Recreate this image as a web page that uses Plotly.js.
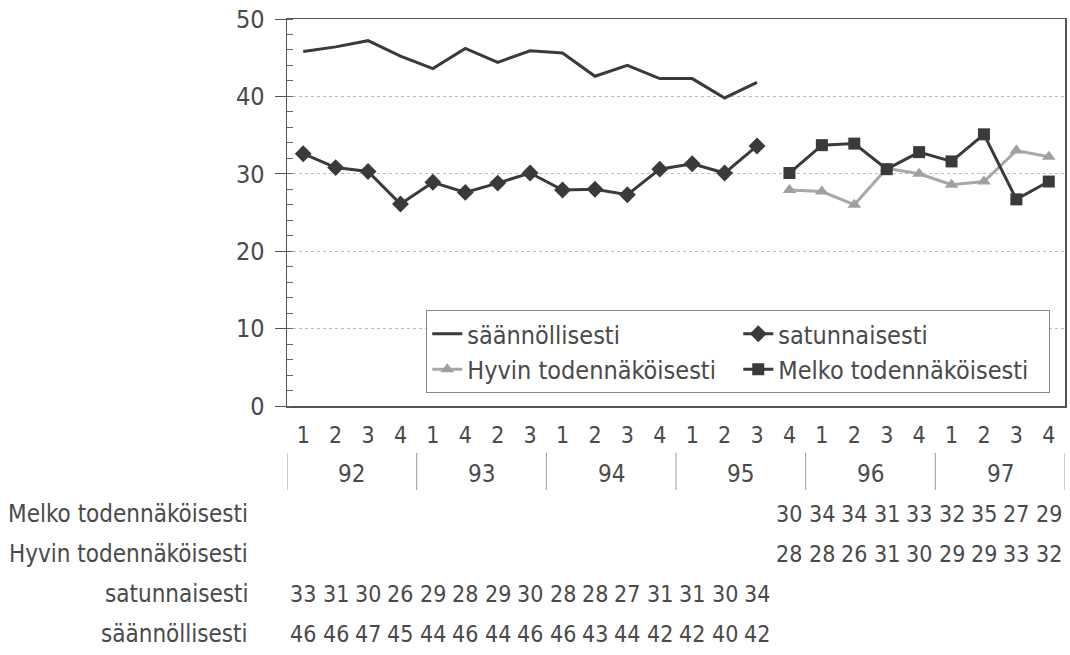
<!DOCTYPE html>
<html><head><meta charset="utf-8">
<script src="https://cdn.plot.ly/plotly-3.0.1.min.js"></script>
<style>html,body{margin:0;padding:0;background:#fff}#chart{width:1070px;height:655px}</style>
</head><body><div id="chart"></div>
<script>
// categories (year groups / quarter labels as printed)
const years = ['92','92','92','92','93','93','93','93','94','94','94','94','95','95','95','95','96','96','96','96','97','97','97','97'];
const quarters = ['1','2','3','4','1','4','2','3','1','2','3','4','1','2','3','4','1','2','3','4','1','2','3','4'];
// series values (first two cover the first 15 quarters, last two the final 9)
const saannollisesti = [45.8,46.4,47.2,45.2,43.6,46.2,44.4,45.9,45.6,42.6,44.0,42.3,42.3,39.8,41.8];
const satunnaisesti = [32.6,30.8,30.3,26.1,28.9,27.6,28.8,30.1,27.9,28.0,27.3,30.6,31.3,30.1,33.6];
const hyvin = [27.9,27.7,26.0,30.7,30.0,28.6,29.0,33.0,32.2];
const melko = [30.1,33.7,33.9,30.6,32.8,31.6,35.1,26.7,29.0];
const names = ['säännöllisesti','satunnaisesti','Hyvin todennäköisesti','Melko todennäköisesti'];

const N = years.length;
const idx = years.map((_, i) => i);
function early(arr){ return arr.concat(new Array(N-arr.length).fill(null)); }
function late(arr){ return new Array(N-arr.length).fill(null).concat(arr); }
const FONT = "'DejaVu Sans Condensed','DejaVu Sans',sans-serif";
const TXT = '#4a4a4a';
const DARK = '#3a3a3a';

const traces = [
  {x:idx, y:early(saannollisesti), name:names[0], mode:'lines', line:{color:DARK, width:3}},
  {x:idx, y:early(satunnaisesti), name:names[1], mode:'lines+markers', line:{color:DARK, width:3}, marker:{symbol:'diamond', size:13, color:DARK}},
  {x:idx, y:late(hyvin), name:names[2], mode:'lines+markers', line:{color:'#a8a8a8', width:3}, marker:{symbol:'triangle-up', size:12, color:'#a0a0a0'}},
  {x:idx, y:late(melko), name:names[3], mode:'lines+markers', line:{color:DARK, width:3}, marker:{symbol:'square', size:12, color:DARK}}
];

const annotations = [];
const shapes = [];

// year group labels and dividers beneath the quarter labels
const groups = [];
years.forEach((y, i) => {
  if (!groups.length || groups[groups.length-1].year !== y) groups.push({year:y, start:i, end:i});
  else groups[groups.length-1].end = i;
});
groups.forEach((g, gi) => {
  annotations.push({xref:'x', yref:'paper', x:(g.start+g.end)/2, y:-0.176, xanchor:'center', yanchor:'middle',
    text:g.year, showarrow:false, font:{family:FONT, size:24, color:TXT}});
  const bounds = gi === 0 ? [g.start-0.5, g.end+0.5] : [g.end+0.5];
  bounds.forEach(b => shapes.push({type:'line', xref:'x', yref:'paper', x0:b, x1:b, y0:-0.121, y1:-0.217,
    line:{color:'#9a9a9a', width:1}}));
});

// data table under the chart
const tableRows = [
  {label:names[3], vals:late(melko)},
  {label:names[2], vals:late(hyvin)},
  {label:names[1], vals:early(satunnaisesti)},
  {label:names[0], vals:early(saannollisesti)}
];
const rowY = [-0.28, -0.383, -0.486, -0.589];
tableRows.forEach((r, ri) => {
  annotations.push({xref:'paper', yref:'paper', x:-0.0476, y:rowY[ri], xanchor:'right', yanchor:'middle', text:r.label, showarrow:false, font:{family:FONT, size:24, color:TXT}});
  r.vals.forEach((v, i) => {
    if (v === null) return;
    annotations.push({xref:'x', yref:'paper', x:i, y:rowY[ri], xanchor:'center', yanchor:'middle', text:String(Math.round(v)), showarrow:false, font:{family:FONT, size:23, color:TXT}});
  });
});

const layout = {
  width:1070, height:655,
  margin:{l:287, r:5, t:19, b:249},
  paper_bgcolor:'#fff', plot_bgcolor:'#fff',
  font:{family:FONT, color:TXT, size:22},
  showlegend:true,
  xaxis:{range:[-0.5, N-0.5], tickvals:idx, ticktext:quarters, showline:true, mirror:true, linecolor:'#555', linewidth:1.5,
         ticks:'', ticklabelstandoff:8, showgrid:false, zeroline:false, tickfont:{family:FONT, size:23, color:TXT}},
  yaxis:{range:[0,50], dtick:10, showline:true, mirror:true, linecolor:'#555', linewidth:1.5,
         ticks:'outside', ticklen:11, tickcolor:'#555', tickwidth:1, ticklabelstandoff:5,
         minor:{dtick:2, ticks:'inside', ticklen:6, tickcolor:'#666', showgrid:false},
         showgrid:true, gridcolor:'#bbb', griddash:'dot', gridwidth:1, zeroline:false,
         tickfont:{family:FONT, size:25, color:TXT}},
  legend:{orientation:'h', x:0.179, y:0.248, xanchor:'left', yanchor:'top', bgcolor:'#fff',
          bordercolor:'#888', borderwidth:1, font:{family:FONT, size:25, color:TXT},
          entrywidth:266, entrywidthmode:'pixels', itemwidth:30, tracegroupgap:0},
  annotations:annotations,
  shapes:shapes
};

Plotly.newPlot('chart', traces, layout, {staticPlot:true, displayModeBar:false});
</script></body></html>
